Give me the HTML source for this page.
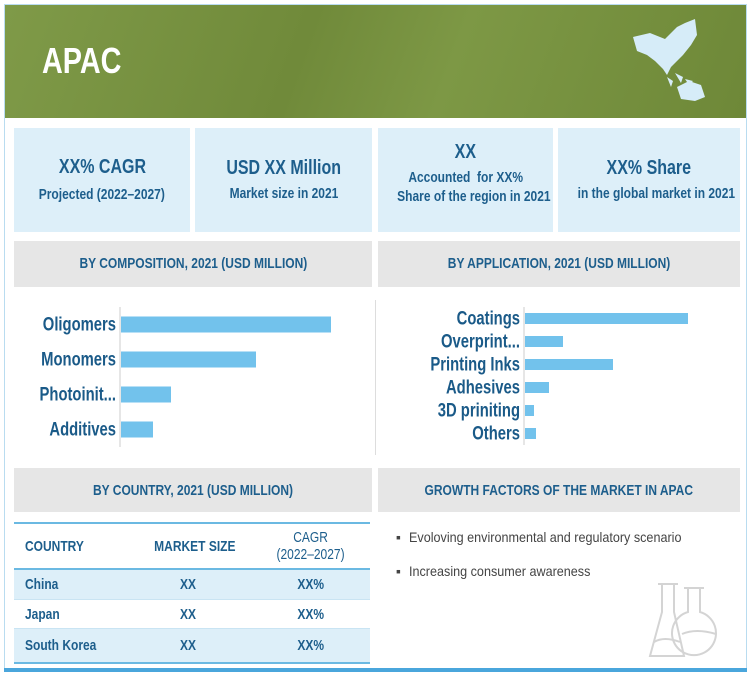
<!DOCTYPE html>
<html><head><meta charset="utf-8">
<style>
*{margin:0;padding:0;box-sizing:border-box}
body{width:750px;height:678px;background:#fff;position:relative;overflow:hidden;font-family:"Liberation Sans",sans-serif;color:#1d5e8c}
.abs{position:absolute}
.n{display:inline-block;transform:scaleX(.8);white-space:nowrap}
.frame{left:4px;top:4px;width:743px;height:668px;border:1px solid #b9dcf0}
.hdr{left:5px;top:5px;width:741px;height:113px;background:linear-gradient(110deg,#7f9a48 0%,#708a3a 40%,#7d9845 60%,#6e8838 100%)}
.title{left:42px;top:40px;font-size:36px;font-weight:bold;color:#fff}
.kpi{top:128px;height:104px;background:#ddeff9;text-align:center;display:flex;flex-direction:column;justify-content:center}
.kpi .big{font-size:20px;font-weight:bold}
.kpi .sm{font-size:15px;font-weight:bold;line-height:19px}
.gh{background:#e6e6e6;text-align:center;font-size:15px;font-weight:bold;line-height:46px;white-space:nowrap}
.tbl{left:14px;top:522px;width:356px;border-top:2px solid #6bb9e2;border-bottom:2px solid #6bb9e2;font-size:15px;font-weight:bold;white-space:nowrap}
.row{display:flex;align-items:center;border-bottom:1px solid #c9e4f3}
.row div:nth-child(1){width:120px;padding-left:11px}
.row div:nth-child(2){width:88px;text-align:center;margin-left:10px}
.row div:nth-child(3){flex:1;text-align:center;margin-left:20px}
.bul{left:396px;font-size:14px;color:#444}
</style></head><body>
<div class="abs frame"></div>
<div class="abs hdr"></div>
<div class="abs title"><span class="n" style="transform-origin:left">APAC</span></div>
<svg class="abs" style="left:625px;top:15px" width="100" height="95">
<path d="M8 22 L25 18 L40 24 L52 12 L60 8 L70 4 L72 20 L66 30 L58 40 L52 46 L46 52 L42 60 L38 54 L30 46 L22 40 L12 36 Z" fill="#d6ecf8"/>
<path d="M42 62 L48 66 L46 72 Z M50 58 L58 62 L56 68 Z M60 64 L68 66 L64 70 Z" fill="#d6ecf8"/>
<path d="M52 72 L64 66 L76 70 L80 82 L70 86 L56 84 Z" fill="#d6ecf8"/>
</svg>
<div class="abs kpi" style="left:14px;width:176px"><div class="big"><span class="n">XX% CAGR</span></div><div class="sm" style="margin-top:6px"><span class="n">Projected (2022–2027)</span></div></div>
<div class="abs kpi" style="left:195px;width:177px"><div class="big"><span class="n">USD XX Million</span></div><div class="sm" style="margin-top:4px"><span class="n">Market size in 2021</span></div></div>
<div class="abs kpi" style="left:378px;width:175px"><div class="big" style="margin-top:-14px"><span class="n">XX</span></div><div class="sm" style="margin-top:4px"><span class="n">Accounted&nbsp; for XX%</span></div><div class="sm"><span class="n">Share of the region in 2021</span></div></div>
<div class="abs kpi" style="left:558px;width:182px"><div class="big"><span class="n">XX% Share</span></div><div class="sm" style="margin-top:4px"><span class="n">in the global market in 2021</span></div></div>
<div class="abs gh" style="left:14px;top:241px;width:358px"><span class="n">BY COMPOSITION, 2021 (USD MILLION)</span></div>
<div class="abs gh" style="left:378px;top:241px;width:362px"><span class="n">BY APPLICATION, 2021 (USD MILLION)</span></div>
<div class="abs" style="left:375px;top:300px;width:1px;height:155px;background:#ddd"></div>
<svg id="chart" class="abs" style="left:0;top:290px" width="750" height="170"></svg>
<div class="abs gh" style="left:14px;top:468px;width:358px;height:44px;line-height:46px"><span class="n">BY COUNTRY, 2021 (USD MILLION)</span></div>
<div class="abs gh" style="left:378px;top:468px;width:362px;height:44px;line-height:46px"><span class="n">GROWTH FACTORS OF THE MARKET IN APAC</span></div>
<div class="abs tbl">
<div class="row" style="height:46px;border-bottom:2px solid #6bb9e2"><div><span class="n" style="transform-origin:left">COUNTRY</span></div><div><span class="n">MARKET SIZE</span></div><div style="font-weight:normal;line-height:17px"><span class="n">CAGR<br>(2022–2027)</span></div></div>
<div class="row" style="height:30px;background:#ddeff9"><div><span class="n" style="transform-origin:left">China</span></div><div><span class="n">XX</span></div><div><span class="n">XX%</span></div></div>
<div class="row" style="height:29px"><div><span class="n" style="transform-origin:left">Japan</span></div><div><span class="n">XX</span></div><div><span class="n">XX%</span></div></div>
<div class="row" style="height:33px;background:#ddeff9;border-bottom:none"><div><span class="n" style="transform-origin:left">South Korea</span></div><div><span class="n">XX</span></div><div><span class="n">XX%</span></div></div>
</div>
<div class="abs bul" style="top:529px">▪&nbsp;&nbsp;<span class="n" style="transform-origin:left;transform:scaleX(.9)">Evoloving environmental and regulatory scenario</span></div>
<div class="abs bul" style="top:563px">▪&nbsp;&nbsp;<span class="n" style="transform-origin:left;transform:scaleX(.9)">Increasing consumer awareness</span></div>
<svg class="abs" style="left:648px;top:582px" width="80" height="80" fill="none" stroke="#d4d4d4" stroke-width="2">
<path d="M10 2 h20 M14 2 v28 L2 74 h34 L26 30 V2"/>
<path d="M36 6 h20 M40 6 v24 a22 22 0 1 0 12 0 V6"/>
<path d="M6 60 q10 -6 26 0 M34 52 q14 -6 34 0"/>
</svg>
<div class="abs" style="left:4px;top:668px;width:743px;height:4px;background:#4aa6dc"></div>
<script>
const compCats=["Oligomers","Monomers","Photoinit...","Additives"];
const compVals=[210,135,50,32];
const appCats=["Coatings","Overprint...","Printing Inks","Adhesives","3D priniting","Others"];
const appVals=[163,38,88,24,9,11];
const svg=document.getElementById('chart');
const NS="http://www.w3.org/2000/svg";
function draw(cats,vals,x0,yTop,step,barH,scale,prefix){
  const ax=document.createElementNS(NS,'line');
  ax.setAttribute('x1',x0);ax.setAttribute('x2',x0);ax.setAttribute('y1',yTop);ax.setAttribute('y2',yTop+step*cats.length);
  ax.setAttribute('stroke','#ccc');
  
  
  svg.appendChild(ax);
  cats.forEach((c,i)=>{
    const cy=yTop+step*i+step/2;
    const r=document.createElementNS(NS,'rect');
    r.setAttribute('x',x0+1);r.setAttribute('y',cy-barH/2);r.setAttribute('width',vals[i]*scale);r.setAttribute('height',barH);
    r.setAttribute('fill','#72c2ec');
    
    
    svg.appendChild(r);
    const t=document.createElementNS(NS,'text');
    t.setAttribute('transform','translate('+(x0-4)+','+(cy+6)+') scale(0.78,1)');
    t.setAttribute('text-anchor','end');
    t.setAttribute('font-size','19');t.setAttribute('fill','#1a5a88');
    t.setAttribute('font-weight','bold');
    t.setAttribute('font-family','"Liberation Sans",sans-serif');
    t.textContent=c;
    
    
    svg.appendChild(t);
  });
}
draw(compCats,compVals,120,17,35,16,1,'composition');
draw(appCats,appVals,524,17,23,11,1,'application');
</script>
</body></html>
